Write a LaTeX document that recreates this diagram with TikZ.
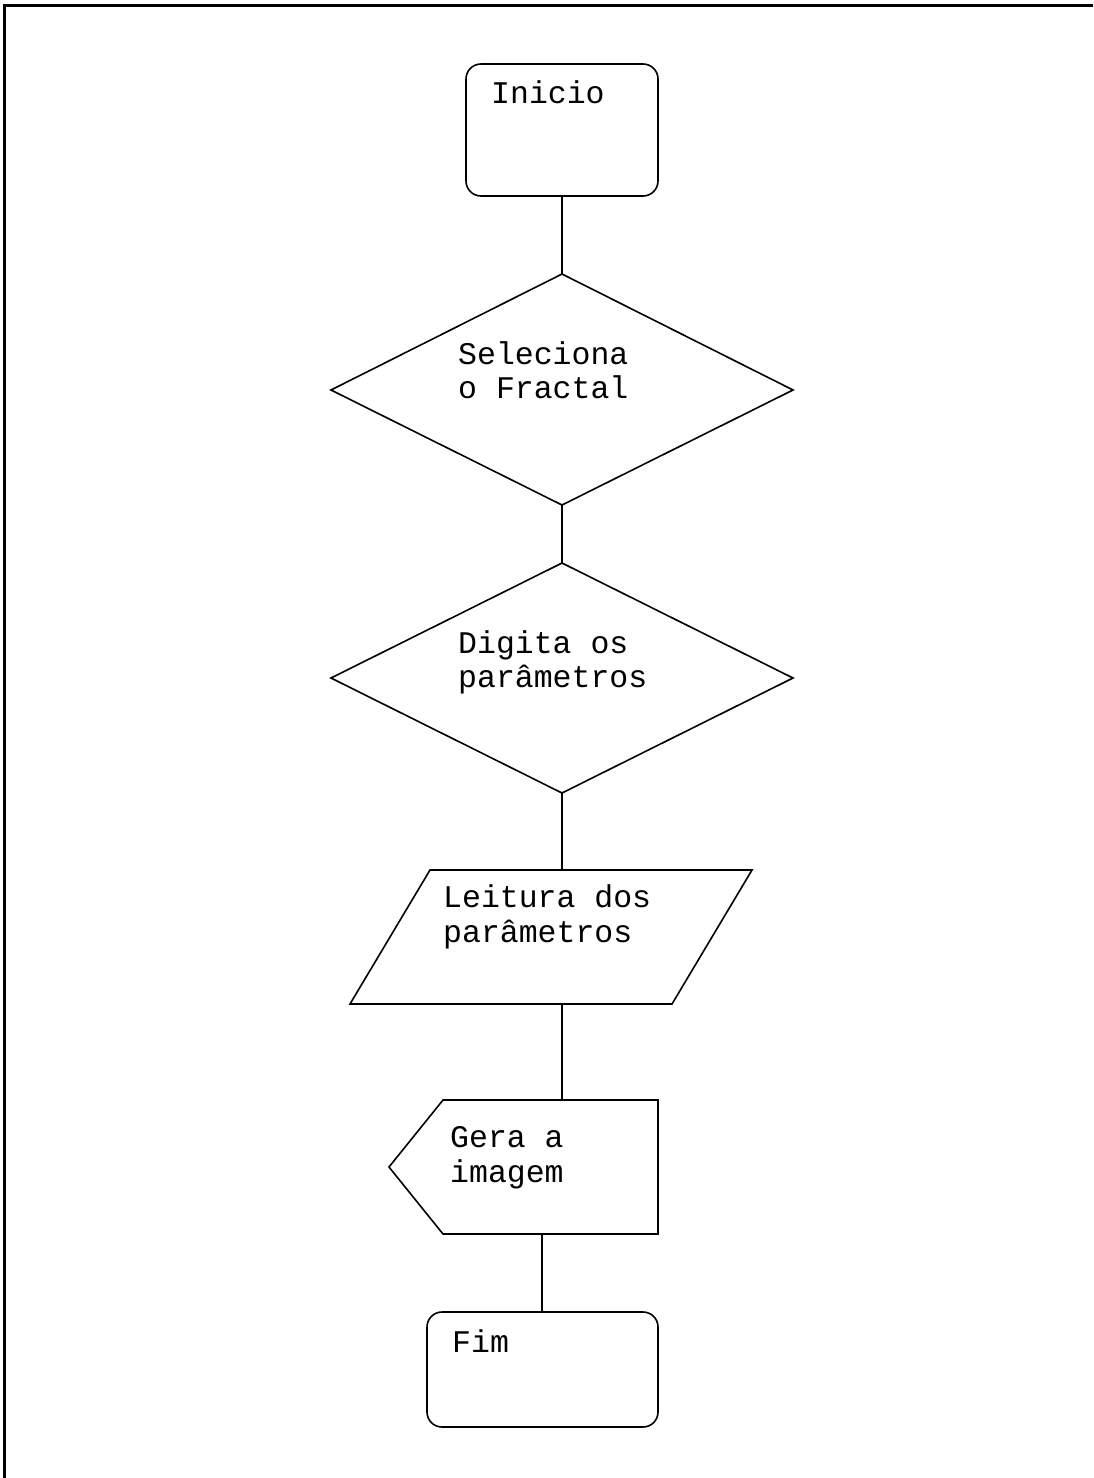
\documentclass[tikz,border=0pt]{standalone}
\usepackage{fontspec}
\setmainfont{Liberation Mono}
\begin{document}
\begin{tikzpicture}[x=1pt,y=-1pt,
  shapeline/.style={draw, line width=1.6pt, line join=miter},
  rbox/.style={draw, line width=1.6pt, rounded corners=15pt, inner sep=0pt},
  conn/.style={draw, line width=1.6pt},
  lbl/.style={anchor=base west, inner sep=0pt, font=\fontsize{31.5}{35}\selectfont}]
\useasboundingbox (0,0) rectangle (1093,1478);
\fill[white] (0,0) rectangle (1093,1478);
% frame
\draw[line width=2.5pt] (4.5,1478) -- (4.5,5.5) -- (1093,5.5);

% Inicio
\node[rbox, minimum width=192pt, minimum height=132pt] (inicio) at (562,130) {};
\node[lbl] (tinicio) at (491,103) {Inicio};

% Diamond 1
\coordinate (d1t) at (562,274);
\coordinate (d1r) at (793,390);
\coordinate (d1b) at (562,505);
\coordinate (d1l) at (331,390);
\draw[shapeline] (d1t) -- (d1r) -- (d1b) -- (d1l) -- cycle;
\node[lbl] (tsel1) at (458,364) {Seleciona};
\node[lbl] (tsel2) at (458,398) {o Fractal};

% Diamond 2
\coordinate (d2t) at (562,563);
\coordinate (d2r) at (793,678);
\coordinate (d2b) at (562,793);
\coordinate (d2l) at (331,678);
\draw[shapeline] (d2t) -- (d2r) -- (d2b) -- (d2l) -- cycle;
\node[lbl] (tdig1) at (458,653) {Digita os};
\node[lbl] (tdig2) at (458,687) {parâmetros};

% Parallelogram
\coordinate (ptl) at (430,870);
\coordinate (ptr) at (752,870);
\coordinate (pbr) at (672,1004);
\coordinate (pbl) at (350,1004);
\coordinate (pt) at (562,870);
\coordinate (pb) at (562,1004);
\draw[shapeline] (ptl) -- (ptr) -- (pbr) -- (pbl) -- cycle;
\node[lbl] (tlei1) at (443,907) {Leitura dos};
\node[lbl] (tlei2) at (443,942) {parâmetros};

% Display shape
\coordinate (gtl) at (443,1100);
\coordinate (gtr) at (658,1100);
\coordinate (gbr) at (658,1234);
\coordinate (gbl) at (443,1234);
\coordinate (gp) at (389,1167);
\coordinate (gt) at (562,1100);
\coordinate (gb) at (542,1234);
\draw[shapeline] (gtl) -- (gtr) -- (gbr) -- (gbl) -- (gp) -- cycle;
\node[lbl] (tger1) at (450,1147) {Gera a};
\node[lbl] (tger2) at (450,1182) {imagem};

% Fim
\node[rbox, minimum width=231pt, minimum height=115pt] (fim) at (542.5,1369.5) {};
\node[lbl] (tfim) at (452,1352) {Fim};

% connectors
\draw[conn] (inicio.south) -- (d1t);
\draw[conn] (d1b) -- (d2t);
\draw[conn] (d2b) -- (pt);
\draw[conn] (pb) -- (gt);
\draw[conn] (gb) -- (fim.north -| gb);
\end{tikzpicture}
\end{document}
